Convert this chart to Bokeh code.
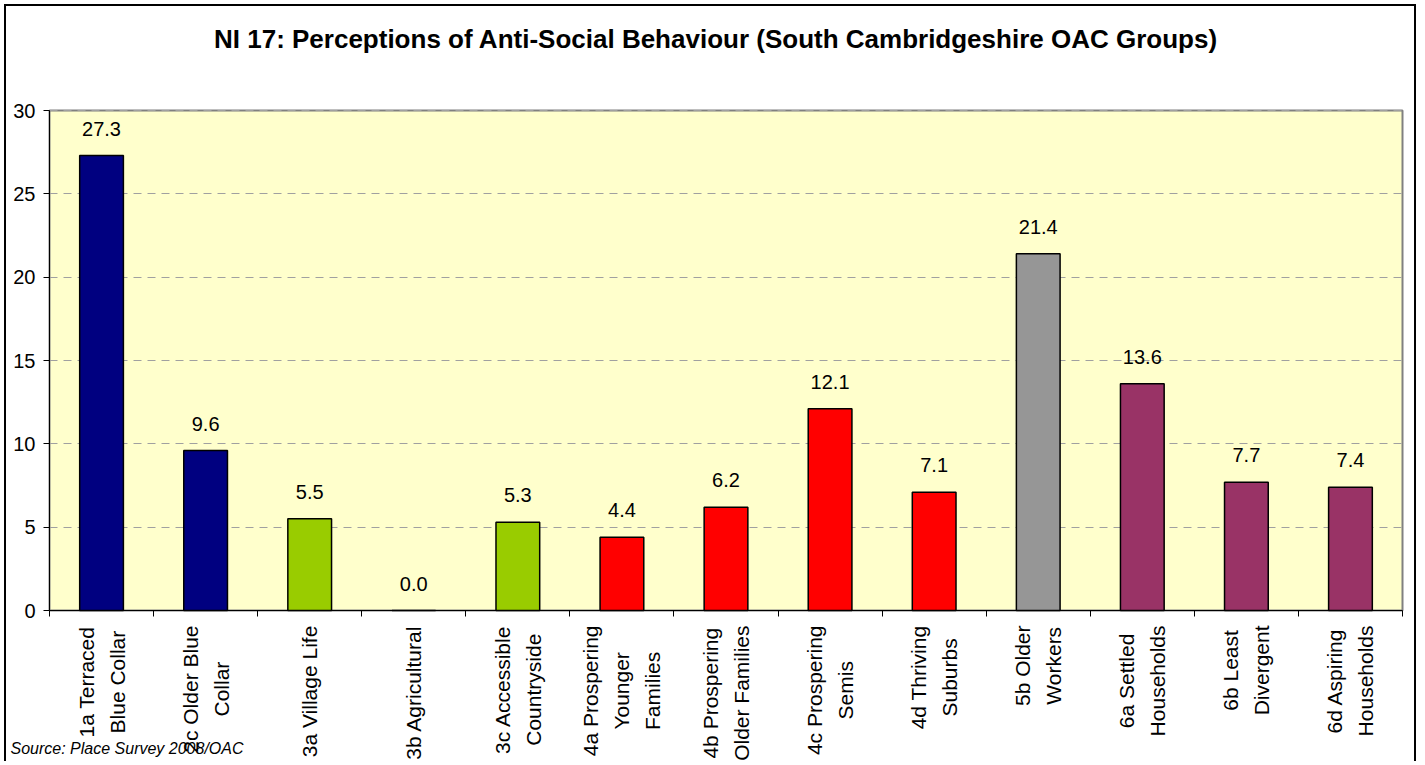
import math
from bokeh.plotting import figure
from bokeh.models import (ColumnDataSource, FixedTicker, LabelSet, Label, Range1d,
                          BoxAnnotation, Grid)
from bokeh.core.properties import value
from bokeh.embed import file_html
from bokeh.resources import INLINE

# ---- data ----
labels = [
    "1a Terraced\nBlue Collar",
    "2c Older Blue\nCollar",
    "3a Village Life",
    "3b Agricultural",
    "3c Accessible\nCountryside",
    "4a Prospering\nYounger\nFamilies",
    "4b Prospering\nOlder Families",
    "4c Prospering\nSemis",
    "4d Thriving\nSuburbs",
    "5b Older\nWorkers",
    "6a Settled\nHouseholds",
    "6b Least\nDivergent",
    "6d Aspiring\nHouseholds",
]
values = [27.3, 9.6, 5.5, 0.0, 5.3, 4.4, 6.2, 12.1, 7.1, 21.4, 13.6, 7.7, 7.4]
supergroups = ["1", "2", "3", "3", "3", "4", "4", "4", "4", "5", "6", "6", "6"]
y_ticks = [0, 5, 10, 15, 20, 25, 30]
y_min, y_max = 0, 30
title_text = "NI 17: Perceptions of Anti-Social Behaviour (South Cambridgeshire OAC Groups)"
source_text = "Source: Place Survey 2008/OAC"

# ---- styles / layout ----
group_colors = {"1": "#000080", "2": "#000080", "3": "#99CC00", "4": "#FF0000",
                "5": "#969696", "6": "#993366"}
FONT = "Liberation Sans"
XLAB_SIZE = 21
W, H = 1412, 757                     # canvas size
PL, PR, PT, PB = 43, 1396, 104, 604  # plot-area edges in canvas pixels

# Arial / Liberation Sans advance widths (per 1000 em) for centring rotated labels
_W = {" ": 278, ".": 278, ":": 278, "/": 278, "(": 333, ")": 333, "-": 333,
      "a": 556, "b": 556, "c": 500, "d": 556, "e": 556, "f": 278, "g": 556, "h": 556,
      "i": 222, "j": 222, "k": 500, "l": 222, "m": 833, "n": 556, "o": 556, "p": 556,
      "q": 556, "r": 333, "s": 500, "t": 278, "u": 556, "v": 500, "w": 722, "x": 500,
      "y": 500, "z": 500,
      "A": 667, "B": 667, "C": 722, "D": 722, "E": 667, "F": 611, "G": 778, "H": 722,
      "I": 278, "J": 500, "K": 667, "L": 556, "M": 833, "N": 722, "O": 778, "P": 667,
      "Q": 778, "R": 722, "S": 667, "T": 611, "U": 722, "V": 667, "W": 944, "X": 667,
      "Y": 667, "Z": 611}


def text_width(s, size):
    return sum(_W.get(ch, 556) for ch in s) / 1000.0 * size


n = len(labels)
xs = list(range(1, n + 1))
x_lo, x_hi = 0.5, n + 0.5
ppx = (PR - PL) / (x_hi - x_lo)
ppy = (PB - PT) / (y_max - y_min)

src = ColumnDataSource(dict(
    x=xs,
    value=values,
    text=[f"{v:.1f}" for v in values],
    color=[group_colors[g] for g in supergroups],
))

p = figure(width=W, height=H,
           x_range=Range1d(x_lo - PL / ppx, x_hi + (W - PR) / ppx),
           y_range=Range1d(y_min - (H - PB) / ppy, y_max + PT / ppy),
           output_backend="svg", toolbar_location=None,
           min_border=0, min_border_left=0, min_border_right=0,
           min_border_top=0, min_border_bottom=0)
p.styles = {"margin-left": "4px", "margin-top": "4px",
            "border-top": "2px solid black", "border-left": "2px solid black",
            "border-right": "2px solid black"}

p.background_fill_color = "white"
p.border_fill_color = "white"
p.outline_line_color = None

# plot area
p.add_layout(BoxAnnotation(left=x_lo, right=x_hi, bottom=y_min, top=y_max,
                           fill_color="#FFFFCC", fill_alpha=1.0,
                           line_color="#808080", line_width=2, line_alpha=1.0,
                           level="image"))

# grid
p.xgrid.visible = False
p.ygrid.ticker = FixedTicker(ticks=y_ticks)
p.ygrid.grid_line_color = "#A0A0A0"
p.ygrid.grid_line_dash = "8 6"
p.ygrid.grid_line_width = 1
p.ygrid.bounds = (y_min, y_max)
if "cross_bounds" in Grid.properties():
    p.ygrid.cross_bounds = (x_lo, x_hi)

# y axis
p.yaxis.fixed_location = x_lo
p.yaxis.bounds = (y_min, y_max)
p.yaxis.ticker = FixedTicker(ticks=y_ticks)
p.yaxis.major_tick_out = 6
p.yaxis.major_tick_in = 0
p.yaxis.minor_tick_out = 0
p.yaxis.minor_tick_in = 0
p.yaxis.axis_line_color = "black"
p.yaxis.major_tick_line_color = "black"
p.yaxis.major_label_text_font = FONT
p.yaxis.major_label_text_font_size = "20px"
p.yaxis.major_label_text_color = "black"
p.yaxis.major_label_standoff = 8

# x axis: only tick marks at the category boundaries
p.xaxis.fixed_location = y_min
p.xaxis.bounds = (x_lo, x_hi)
p.xaxis.ticker = FixedTicker(ticks=[], minor_ticks=[i + 0.5 for i in range(n + 1)])
p.xaxis.major_tick_out = 0
p.xaxis.major_tick_in = 0
p.xaxis.minor_tick_out = 6
p.xaxis.minor_tick_in = 0
p.xaxis.minor_tick_line_color = "black"
p.xaxis.axis_line_color = "black"

# category labels, rotated, lines centred, block top 15px below the axis
for x, lab in zip(xs, labels):
    block = max(text_width(line, XLAB_SIZE) for line in lab.split("\n"))
    p.add_layout(Label(x=x, y=y_min, x_units="data", y_units="data",
                       y_offset=-(15 + block / 2.0), angle=math.pi / 2,
                       text=lab, text_align="center", text_baseline="middle",
                       text_font=FONT, text_font_size=f"{XLAB_SIZE}px",
                       text_line_height=1.35, text_color="black"))

p.vbar(x="x", top="value", width=0.42, fill_color="color", line_color="black",
       line_width=1.5, source=src)

p.add_layout(LabelSet(x="x", y="value", text="text", source=src,
                      text_align="center", text_baseline="bottom", y_offset=20,
                      text_font=value(FONT), text_font_size=value("20px"),
                      text_color="black"))

# title
p.add_layout(Label(x=(x_lo + x_hi) / 2.0, y=y_max, x_units="data", y_units="data",
                   x_offset=-10, y_offset=72, text=title_text, text_align="center",
                   text_baseline="middle", text_font=FONT, text_font_size="26px",
                   text_font_style="bold", text_color="black"))

# source note
p.add_layout(Label(x=x_lo, y=y_min, x_units="data", y_units="data",
                   x_offset=-39, y_offset=-138, text=source_text, text_font=FONT,
                   text_font_style="italic", text_font_size="16px",
                   text_baseline="middle", text_color="black"))

open("out.html", "w").write(file_html(p, INLINE))
